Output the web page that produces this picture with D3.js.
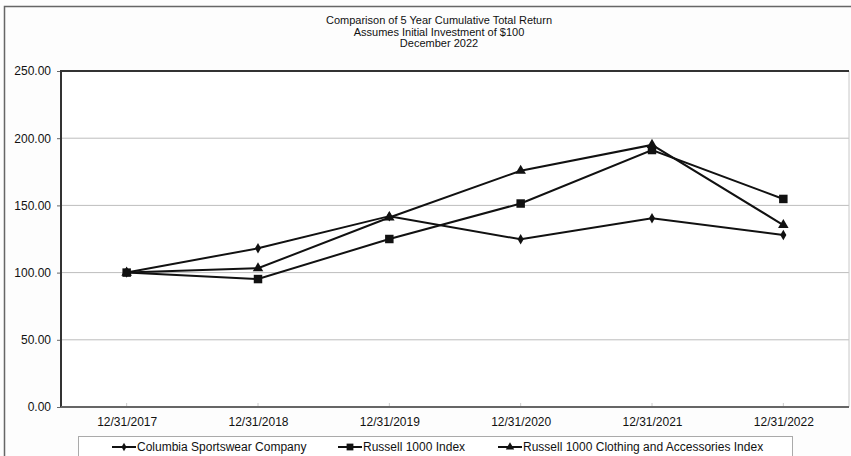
<!DOCTYPE html>
<html>
<head>
<meta charset="utf-8">
<script src="https://cdn.jsdelivr.net/npm/d3@7"></script>
<style>
  body { margin: 0; background: #fff; }
  svg text { font-family: "Liberation Sans", Arial, sans-serif; fill: #111; }
</style>
</head>
<body>
<div id="graph"></div>
<script>
const dates = ["12/31/2017", "12/31/2018", "12/31/2019", "12/31/2020", "12/31/2021", "12/31/2022"];
const columbia = [100, 118.1, 142.0, 124.8, 140.4, 128.0];
const russell1000 = [100, 95.2, 125.0, 151.4, 191.2, 154.8];
const clothing = [100, 103.2, 141.0, 175.8, 195.0, 135.4];
const yTicks = [0, 50, 100, 150, 200, 250];
const titleLines = [
  "Comparison of 5 Year Cumulative Total Return",
  "Assumes Initial Investment of $100",
  "December 2022"
];

const series = [
  { name: "Columbia Sportswear Company", values: columbia, marker: "diamond" },
  { name: "Russell 1000 Index", values: russell1000, marker: "square" },
  { name: "Russell 1000 Clothing and Accessories Index", values: clothing, marker: "triangle" }
];

const width = 851;
const height = 456;
const config = { left: 61, right: 849, top: 71, bottom: 407 };

const svg = d3
  .select("#graph")
  .append("svg")
  .attr("width", width)
  .attr("height", height);

// outer frame
svg.append("rect").attr("width", width).attr("height", height).attr("fill", "#fdfdfd");
svg
  .append("path")
  .attr("d", `M4.5,${height}V6.5H${width}`)
  .attr("fill", "none")
  .attr("stroke", "#666")
  .attr("stroke-width", 1.5);

// title
svg
  .append("g")
  .selectAll("text")
  .data(titleLines)
  .enter()
  .append("text")
  .attr("x", 439)
  .attr("y", (d, i) => 24 + i * 11.5)
  .attr("text-anchor", "middle")
  .style("font-size", "11px")
  .text((d) => d);

const x = d3
  .scalePoint()
  .domain(dates)
  .range([config.left, config.right])
  .padding(0.5);

const y = d3.scaleLinear().domain([0, 250]).range([config.bottom, config.top]);

// plot background
svg
  .append("rect")
  .attr("x", config.left)
  .attr("y", config.top)
  .attr("width", config.right - config.left)
  .attr("height", config.bottom - config.top)
  .attr("fill", "#fff");

// gridlines
svg
  .append("g")
  .selectAll("line")
  .data(yTicks.filter((d) => d > 0 && d < 250))
  .enter()
  .append("line")
  .attr("x1", config.left)
  .attr("x2", config.right)
  .attr("y1", (d) => y(d))
  .attr("y2", (d) => y(d))
  .attr("stroke", "#bdbdbd")
  .attr("stroke-width", 1);

// y axis
const yAxis = d3
  .axisLeft(y)
  .tickValues(yTicks)
  .tickSize(4)
  .tickPadding(6)
  .tickFormat(d3.format(".2f"));

svg
  .append("g")
  .attr("transform", `translate(${config.left},0)`)
  .call(yAxis)
  .call((g) => g.select(".domain").remove())
  .call((g) => g.selectAll(".tick line").attr("stroke", "#666"))
  .call((g) => g.selectAll("text").style("font-size", "12px").attr("fill", "#111"));

// x axis (small ticks pointing up into the plot)
const xAxis = d3.axisBottom(x).tickSize(0).tickPadding(10);

svg
  .append("g")
  .attr("transform", `translate(0,${config.bottom})`)
  .call(xAxis)
  .call((g) => g.select(".domain").remove())
  .call((g) => g.selectAll("text").style("font-size", "12px").attr("fill", "#111"));

svg
  .append("g")
  .selectAll("line")
  .data(dates)
  .enter()
  .append("line")
  .attr("x1", (d) => x(d))
  .attr("x2", (d) => x(d))
  .attr("y1", config.bottom - 4)
  .attr("y2", config.bottom)
  .attr("stroke", "#ccc");

// plot frame
svg
  .append("line")
  .attr("x1", config.right)
  .attr("x2", config.right)
  .attr("y1", config.top)
  .attr("y2", config.bottom)
  .attr("stroke", "#c8c8c8");
svg
  .append("path")
  .attr("d", `M${config.left},${config.bottom}V${config.top}H${config.right}`)
  .attr("fill", "none")
  .attr("stroke", "#333")
  .attr("stroke-width", 2);
svg
  .append("line")
  .attr("x1", config.left)
  .attr("x2", config.right)
  .attr("y1", config.bottom)
  .attr("y2", config.bottom)
  .attr("stroke", "#666")
  .attr("stroke-width", 2);

const symbols = {
  diamond: d3.symbol().type(d3.symbolDiamond).size(32),
  square: d3.symbol().type(d3.symbolSquare).size(72),
  triangle: d3.symbol().type(d3.symbolTriangle).size(48)
};

const line = d3
  .line()
  .x((d, i) => x(dates[i]))
  .y((d) => y(d));

series.forEach((s) => {
  svg
    .append("path")
    .datum(s.values)
    .attr("d", line)
    .attr("fill", "none")
    .attr("stroke", "#111")
    .attr("stroke-width", 2);
});

series.forEach((s) => {
  svg
    .append("g")
    .selectAll("path")
    .data(s.values)
    .enter()
    .append("path")
    .attr("d", symbols[s.marker])
    .attr("transform", (d, i) => `translate(${x(dates[i])},${y(d)})`)
    .attr("fill", "#111");
});

// legend
const legendGroup = svg.append("g").attr("class", "legend-group");

legendGroup
  .append("rect")
  .attr("x", 78.5)
  .attr("y", 436.5)
  .attr("width", 714)
  .attr("height", 30)
  .attr("fill", "#fff")
  .attr("stroke", "#aaa");

const legendX = [112, 338, 498];

const legendEntries = legendGroup
  .selectAll(".legend-entry")
  .data(series)
  .enter()
  .append("g")
  .attr("class", "legend-entry")
  .attr("transform", (d, i) => `translate(${legendX[i]}, 447)`);

legendEntries
  .append("line")
  .attr("x1", 0)
  .attr("x2", 24)
  .attr("stroke", "#111")
  .attr("stroke-width", 2);

legendEntries
  .append("path")
  .attr("d", (d) => symbols[d.marker]())
  .attr("transform", "translate(12,0) scale(0.8)")
  .attr("fill", "#111");

legendEntries
  .append("text")
  .attr("x", 25)
  .attr("dy", "0.35em")
  .style("font-size", "12px")
  .text((d) => d.name);
</script>
</body>
</html>
